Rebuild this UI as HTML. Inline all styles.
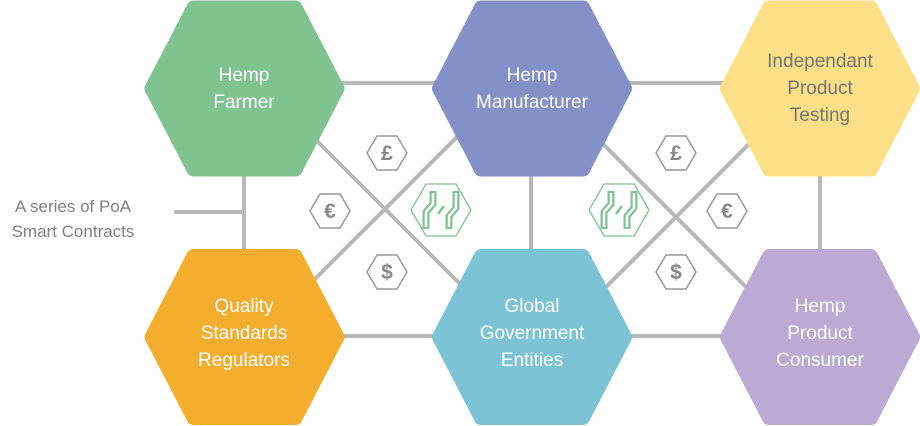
<!DOCTYPE html>
<html><head><meta charset="utf-8"><style>
html,body{margin:0;padding:0;background:#fff;}
svg{display:block}
text{font-family:"Liberation Sans",sans-serif;}
</style></head><body>
<svg width="920" height="426" viewBox="0 0 920 426" xmlns="http://www.w3.org/2000/svg">
<defs>
<polygon id="hx" points="-93,0 -51,-81 51,-81 93,0 51,81 -51,81" stroke-width="14" stroke-linejoin="round"/>
<polygon id="sh" points="-20,0 -10,-17 10,-17 20,0 10,17 -10,17" fill="#fff" stroke="#999" stroke-width="1.5"/>
<g id="circ">
<polygon points="-30,0 -15,-26 15,-26 30,0 15,26 -15,26" fill="#fff" stroke="#7fc391" stroke-width="1.3"/>
<path d="M-8,-19 V-6 L-15,2 V19 M15,-19 V-2 L8,6 V19" fill="none" stroke="#7fc391" stroke-width="7" stroke-linejoin="round"/>
<path d="M-8,-17 V-6 L-15,2 V17 M15,-17 V-2 L8,6 V17" fill="none" stroke="#fff" stroke-width="2.5" stroke-linejoin="round"/>
<path d="M-3,4 l6,-8" stroke="#7fc391" stroke-width="2.5"/>
</g>
</defs>
<g stroke="#b8b8b8" stroke-width="4">
<line x1="244" y1="83" x2="820" y2="83"/>
<line x1="244" y1="336" x2="820" y2="336"/>
<line x1="244" y1="150" x2="244" y2="270"/>
<line x1="531" y1="150" x2="531" y2="270"/>
<line x1="820" y1="150" x2="820" y2="270"/>
<line x1="174" y1="212" x2="244" y2="212"/>
<line x1="300" y1="124" x2="470" y2="294"/>
<line x1="300" y1="294" x2="470" y2="124"/>
<line x1="591" y1="132" x2="761" y2="302"/>
<line x1="591" y1="302" x2="761" y2="132"/>
</g>
<use href="#hx" x="244.5" y="88.5" fill="#7fc391" stroke="#7fc391"/>
<use href="#hx" x="532" y="88.5" fill="#8391c8" stroke="#8391c8"/>
<use href="#hx" x="820" y="88.5" fill="#fddf87" stroke="#fddf87"/>
<use href="#hx" x="244.5" y="337" fill="#f5ad2d" stroke="#f5ad2d"/>
<use href="#hx" x="532" y="337" fill="#7cc4d5" stroke="#7cc4d5"/>
<use href="#hx" x="820" y="337" fill="#bbaad3" stroke="#bbaad3"/>
<g font-size="19" fill="#fff" text-anchor="middle">
<text x="244" y="81">Hemp</text><text x="244" y="108">Farmer</text>
<text x="532" y="81">Hemp</text><text x="532" y="108">Manufacturer</text>
<text x="244" y="312">Quality</text><text x="244" y="339">Standards</text><text x="244" y="366">Regulators</text>
<text x="532" y="312">Global</text><text x="532" y="339">Government</text><text x="532" y="366">Entities</text>
<text x="820" y="312">Hemp</text><text x="820" y="339">Product</text><text x="820" y="366">Consumer</text>
</g>
<g font-size="19" fill="#777" text-anchor="middle">
<text x="820" y="67">Independant</text><text x="820" y="94">Product</text><text x="820" y="121">Testing</text>
</g>
<g font-size="17" fill="#808080" text-anchor="middle">
<text x="73" y="212">A series of PoA</text><text x="73" y="237">Smart Contracts</text>
</g>
<use href="#sh" x="387" y="153"/><use href="#sh" x="330" y="211"/><use href="#sh" x="387" y="272"/>
<use href="#sh" x="676" y="153"/><use href="#sh" x="727" y="211"/><use href="#sh" x="676" y="272"/>
<g font-size="21" font-weight="bold" fill="#888" text-anchor="middle">
<text x="387" y="160">£</text><text x="330" y="218">€</text><text x="387" y="279">$</text>
<text x="676" y="160">£</text><text x="727" y="218">€</text><text x="676" y="279">$</text>
</g>
<use href="#circ" x="441" y="210"/>
<use href="#circ" x="619" y="210"/>
</svg>
</body></html>
